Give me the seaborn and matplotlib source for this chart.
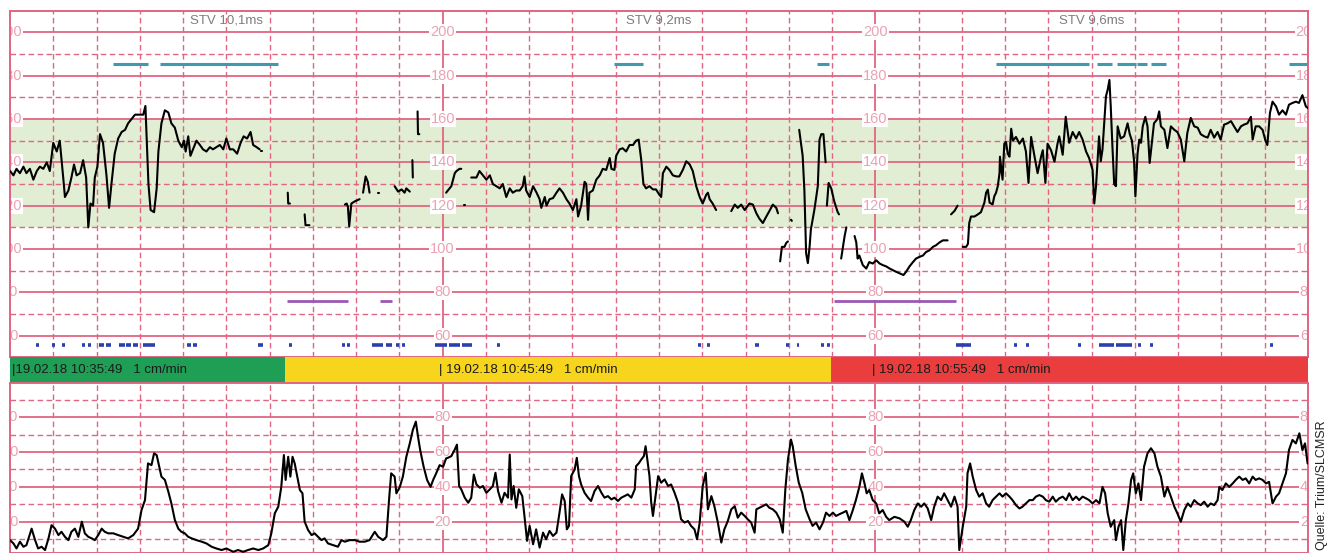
import numpy as np
import pandas as pd
import matplotlib
matplotlib.use("Agg")
import matplotlib.pyplot as plt
import seaborn as sns

# CTG strip, 30 minutes, x in minutes from 10:35:49
# fetal heart rate, one inner list per stretch of valid signal
fhr_min = [
    [0.00, 0.08, 0.15, 0.23, 0.31, 0.38, 0.46, 0.54, 0.62, 0.69, 0.77, 0.85, 0.92,
     1.00, 1.08, 1.15, 1.23, 1.27, 1.35, 1.42, 1.48, 1.54, 1.62, 1.69, 1.76, 1.81, 1.86, 1.92, 1.96,
     2.02, 2.08, 2.15, 2.23, 2.29, 2.35, 2.42, 2.50, 2.58, 2.66, 2.73, 2.81, 2.89, 2.99,
     3.08, 3.13, 3.20, 3.25, 3.33, 3.39, 3.43, 3.50, 3.58, 3.66, 3.73, 3.81, 3.89, 3.97,
     4.02, 4.06, 4.12, 4.17, 4.23, 4.31, 4.39, 4.46, 4.54, 4.62, 4.69, 4.77, 4.85, 4.93,
     5.00, 5.08, 5.16, 5.25, 5.33, 5.40, 5.48, 5.56, 5.62, 5.70, 5.77],
    [5.81, 5.83],
    [6.42, 6.43, 6.47],
    [6.81, 6.83, 6.92],
    [7.74, 7.78, 7.81, 7.84, 7.89, 7.97, 8.08],
    [8.16, 8.22, 8.27, 8.31],
    [8.50, 8.53],
    [8.89, 8.97, 9.05, 9.12, 9.16, 9.24],
    [9.30, 9.31],
    [9.42, 9.43, 9.46],
    [10.08, 10.12, 10.20, 10.24, 10.28, 10.32, 10.39, 10.43],
    [10.50, 10.52],
    [10.66, 10.78, 10.85, 10.93, 11.01, 11.09, 11.16, 11.24, 11.32, 11.39, 11.47, 11.55, 11.62,
     11.70, 11.78, 11.85, 11.89, 11.93, 12.01, 12.09, 12.17, 12.24, 12.28, 12.36, 12.40, 12.47,
     12.55, 12.63, 12.70, 12.78, 12.86, 12.93, 13.01, 13.09, 13.13, 13.20, 13.28, 13.32, 13.36,
     13.39, 13.47, 13.55, 13.63, 13.70, 13.78, 13.86, 13.90, 13.97, 14.01, 14.09, 14.16, 14.24,
     14.32, 14.40, 14.47, 14.53, 14.59, 14.64, 14.70, 14.78, 14.86, 14.93, 15.01, 15.05, 15.09,
     15.17, 15.24, 15.32, 15.40, 15.47, 15.55, 15.63, 15.71, 15.78, 15.86, 15.94, 16.01, 16.09,
     16.13, 16.17, 16.24, 16.32],
    [16.67, 16.75, 16.82, 16.90, 16.98, 17.09, 17.17, 17.25, 17.32, 17.40, 17.48, 17.55, 17.63,
     17.71, 17.75],
    [17.80, 17.84, 17.90, 17.94, 17.98],
    [18.05, 18.07],
    [18.24, 18.32, 18.36, 18.40, 18.44, 18.48, 18.51, 18.59, 18.67, 18.71, 18.75, 18.80, 18.85],
    [18.88, 18.92, 18.98, 19.05, 19.13, 19.16],
    [19.21, 19.29, 19.33],
    [19.52, 19.56, 19.59, 19.63, 19.71, 19.79, 19.86, 19.94, 20.02, 20.10, 20.17, 20.25, 20.33,
     20.40, 20.48, 20.56, 20.65, 20.71, 20.79, 20.87, 20.94, 21.02, 21.10, 21.17, 21.25, 21.33,
     21.40, 21.48, 21.56, 21.67],
    [21.75, 21.83, 21.90],
    [22.02, 22.10, 22.14, 22.17, 22.21, 22.29, 22.37, 22.44, 22.52, 22.56, 22.60, 22.64, 22.71,
     22.75, 22.79, 22.83, 22.87, 22.88, 22.94, 22.98, 23.02, 23.06, 23.10, 23.14, 23.18, 23.25,
     23.33, 23.41, 23.48, 23.54, 23.60, 23.68, 23.75, 23.83, 23.87, 23.93, 23.98, 24.06, 24.14,
     24.21, 24.25, 24.33, 24.40, 24.48, 24.56, 24.64, 24.71, 24.79, 24.87, 24.94, 25.02, 25.06,
     25.10, 25.17, 25.21, 25.25, 25.33, 25.37, 25.41, 25.44, 25.48, 25.52, 25.56, 25.60, 25.67,
     25.75, 25.83, 25.88, 25.93, 25.98, 26.01, 26.06, 26.10, 26.14, 26.18, 26.24, 26.29, 26.34,
     26.39, 26.44, 26.52, 26.56, 26.60, 26.68, 26.75, 26.83, 26.91, 26.98, 27.06, 27.14, 27.21,
     27.29, 27.37, 27.45, 27.52, 27.60, 27.68, 27.75, 27.83, 27.91, 27.98, 28.06, 28.14, 28.22,
     28.29, 28.37, 28.45, 28.52, 28.60, 28.68, 28.72, 28.79, 28.87, 28.95, 29.02, 29.06, 29.12,
     29.18, 29.26, 29.33, 29.41, 29.49, 29.56, 29.64, 29.72, 29.79, 29.87, 29.95, 30.00],
]
fhr_bpm = [
    [136, 134, 137, 135, 138, 135, 137, 132, 136, 138, 137, 140, 136,
     149, 145, 150, 133, 124, 127, 133, 139, 134, 135, 141, 133, 110, 121, 120, 133,
     138, 153, 149, 134, 119, 131, 144, 151, 154, 155, 158, 160, 162, 162,
     162, 166, 130, 118, 117, 128, 145, 158, 164, 163, 158, 156, 150, 147,
     150, 145, 152, 143, 146, 150, 148, 146, 145, 147, 146, 147, 148, 146,
     151, 146, 146, 144, 149, 152, 151, 154, 148, 147, 146],
    [145, 145],
    [126, 121, 121],
    [116, 111, 111],
    [120.5, 121, 119.5, 110.5, 121, 122, 123],
    [126, 133.5, 131, 126],
    [126, 126],
    [129, 126.5, 127.5, 126, 128, 126.5],
    [141, 133],
    [163.5, 153, 153],
    [126, 127, 129, 132, 135, 136, 137, 137],
    [120.5, 120.5],
    [133, 133, 136, 134, 132, 134, 130, 129, 128, 130, 124, 128, 126,
     127, 127, 129, 133.5, 127, 124, 129, 126, 123, 119, 124, 120, 123,
     123.5, 126, 128, 126, 123, 121, 118, 123, 115, 120, 131, 130, 113.5,
     126, 127, 132, 134, 137, 136.5, 142, 137, 136.5, 143, 146, 146.5, 145,
     148, 148, 150, 150.5, 141, 130, 128, 129, 127.5, 127.5, 125, 124, 135,
     138, 136.5, 134, 133.5, 133.5, 136.5, 140.5, 139, 136, 129, 124, 121, 125,
     126, 123, 121, 118],
    [117.5, 120.5, 119, 120.5, 118, 121, 120.5, 116.5, 114, 112, 115, 117.5, 120.5,
     119, 116.5],
    [94.3, 101, 101, 102.8, 103.5],
    [113.5, 113],
    [155, 143, 127, 98, 93.5, 101, 109, 118, 129, 150.5, 153, 153, 140],
    [120, 130.5, 128, 122, 117, 116],
    [95.6, 106, 110],
    [106, 103, 95.6, 97, 92.6, 91, 94, 93.3, 94.8, 93.3, 92.6, 92, 91,
     90.3, 89.5, 88.8, 88, 89.5, 92, 94, 95.6, 96.4, 97, 98.6, 99.4, 101,
     101.7, 103, 104, 104],
    [116, 117.6, 120],
    [101, 101, 102.4, 112, 115, 115, 116, 117, 121.4, 126, 127.4, 121.4, 120.6,
     124.4, 126, 129, 135, 142.6, 132, 148.6, 149.4, 144, 142.6, 155.5, 150, 151.7,
     148.6, 151, 145, 130.5, 151.7, 142.6, 135, 142.6, 145.6, 130.5, 148.6, 145.6, 140.3,
     148.6, 152, 143.5, 161, 149, 154, 151, 154, 150.5, 145, 142, 136.6, 121,
     129, 152, 140.5, 146, 170.5, 173.5, 178, 166, 147, 130, 129, 156.6, 151,
     152, 158, 153, 150, 140.5, 124.3, 144, 150.5, 149, 156.6, 161, 156.6, 139.7,
     149, 158, 160, 163.5, 156.6, 155, 146.6, 156.6, 155, 154, 150.5, 140.5, 153.5,
     160.5, 156.6, 156, 153, 152, 151.4, 155, 151.4, 154, 150.5, 157.4, 158, 159,
     156.6, 154, 156.6, 157.4, 158, 161, 150.5, 156.6, 156.6, 155, 149.7, 148, 162.8,
     168, 165.8, 162, 164, 162, 166.6, 167.4, 168, 167.4, 171, 165.8, 165],
]

# uterine activity (toco)
toco_min = [
    0.00, 0.08, 0.15, 0.23, 0.31, 0.38, 0.50, 0.58, 0.65, 0.73, 0.81, 0.89, 0.96,
    1.04, 1.12, 1.19, 1.27, 1.35, 1.42, 1.50, 1.58, 1.66, 1.73, 1.81, 1.89, 1.96,
    2.04, 2.12, 2.19, 2.27, 2.39, 2.50, 2.62, 2.73, 2.85, 2.96,
    3.04, 3.12, 3.19, 3.27, 3.33, 3.39, 3.45, 3.50, 3.58, 3.66, 3.73, 3.81, 3.89, 3.96,
    4.04, 4.12, 4.20, 4.31, 4.43, 4.54, 4.66, 4.77, 4.89,
    5.00, 5.16, 5.27, 5.39, 5.50, 5.62, 5.74, 5.85, 5.97,
    6.04, 6.12, 6.20, 6.27, 6.33, 6.37, 6.43, 6.48, 6.53, 6.58, 6.64, 6.70, 6.76, 6.81, 6.89, 6.97,
    7.04, 7.12, 7.20, 7.27, 7.35, 7.47, 7.58, 7.66, 7.74, 7.85, 7.97,
    8.08, 8.20, 8.31, 8.43, 8.51, 8.62, 8.70, 8.76, 8.81, 8.89, 8.93,
    9.01, 9.08, 9.16, 9.24, 9.31, 9.38, 9.43, 9.48, 9.56, 9.64, 9.72, 9.78, 9.85, 9.93,
    10.01, 10.08, 10.12, 10.20, 10.28, 10.33, 10.38, 10.43, 10.51, 10.59, 10.66, 10.72, 10.78,
    10.86, 10.93, 11.01, 11.09, 11.16, 11.22, 11.28, 11.36, 11.43, 11.51, 11.55, 11.59, 11.64,
    11.70, 11.76, 11.84, 11.89, 11.95, 12.01, 12.09, 12.16, 12.24, 12.32, 12.39, 12.47, 12.55,
    12.63, 12.70, 12.76, 12.82, 12.87, 12.92, 12.97, 13.05, 13.10, 13.15, 13.20, 13.28, 13.36,
    13.43, 13.51, 13.59, 13.67, 13.74, 13.82, 13.90, 13.97, 14.05, 14.13, 14.20, 14.28, 14.36,
    14.44, 14.47, 14.54, 14.59, 14.65, 14.69, 14.74, 14.78, 14.82, 14.86, 14.92, 14.98, 15.05,
    15.13, 15.21, 15.28, 15.36, 15.44, 15.51, 15.59, 15.67, 15.74, 15.82, 15.88, 15.94, 16.01,
    16.08, 16.13, 16.21, 16.28, 16.36, 16.44, 16.51, 16.59, 16.67, 16.75, 16.82, 16.90, 16.98,
    17.05, 17.13, 17.21, 17.25, 17.32, 17.40, 17.48, 17.55, 17.63, 17.71, 17.79, 17.86, 17.92,
    17.98, 18.05, 18.09, 18.16, 18.23, 18.31, 18.39, 18.48, 18.55, 18.63, 18.71, 18.79, 18.86,
    18.94, 19.02, 19.09, 19.17, 19.25, 19.33,
    19.40, 19.48, 19.55, 19.63, 19.69, 19.75, 19.80, 19.86, 19.94, 20.02, 20.09, 20.17, 20.25,
    20.32, 20.44, 20.56, 20.67, 20.75, 20.82, 20.90, 20.98, 21.06, 21.13, 21.21, 21.29, 21.36,
    21.44, 21.52, 21.59, 21.67, 21.75, 21.83, 21.90, 21.94, 22.02, 22.10, 22.13, 22.19, 22.25,
    22.33, 22.40, 22.48, 22.56, 22.63, 22.71, 22.79, 22.87, 22.94, 23.02, 23.10, 23.17, 23.25,
    23.33, 23.40, 23.48, 23.56, 23.64, 23.71, 23.79, 23.87, 23.94, 24.02, 24.10, 24.17, 24.25,
    24.33, 24.41, 24.48, 24.56, 24.64, 24.71, 24.79, 24.87, 24.94, 25.02, 25.10, 25.18, 25.25,
    25.31, 25.37, 25.44, 25.52, 25.56, 25.62, 25.68, 25.73, 25.79, 25.85, 25.91, 25.96, 26.02,
    26.08, 26.14, 26.21, 26.29, 26.37, 26.45, 26.52, 26.60, 26.68, 26.75, 26.83, 26.91, 26.98,
    27.06, 27.14, 27.22, 27.29, 27.37, 27.45, 27.52, 27.60, 27.68, 27.75, 27.83, 27.91, 27.95,
    28.02, 28.10, 28.18, 28.26, 28.33, 28.41, 28.49, 28.56, 28.64, 28.72, 28.79, 28.87, 28.95,
    29.03, 29.10, 29.18, 29.26, 29.33, 29.41, 29.49, 29.56, 29.64, 29.72, 29.80, 29.87, 29.93,
    29.99,
]
toco_val = [
    9.4, 7.5, 4.6, 8.5, 5.6, 6.5, 16, 9.4, 4.6, 5.6, 3.7, 10.4, 18,
    16, 12.3, 14.2, 11.3, 9.4, 14.2, 16, 11.3, 20, 13.3, 11.3, 10.4, 9.4,
    12.3, 16, 14.2, 13.3, 13.3, 12.3, 11.3, 10.4, 12.3, 16,
    26.7, 32.4, 53.5, 52.5, 59.3, 58.3, 51.6, 45.9, 44, 37.2, 30.5, 21, 16, 14.2,
    13.3, 11.3, 10.4, 9.4, 8.5, 7.5, 5.6, 4.6, 3.7,
    4.6, 2.7, 3.7, 2.7, 3.7, 4.6, 3.7, 4.6, 6.5,
    13.3, 24.8, 28.6, 40, 58.3, 44, 57.3, 45.9, 57.3, 53.5, 45.9, 38.2, 36.3, 20, 15.2, 12.3,
    13.3, 11.3, 9.4, 10.4, 7.5, 6.5, 5.6, 9.4, 8.5, 9.4, 9.4,
    8.5, 8.5, 9.4, 14.2, 11.3, 9.4, 11.3, 32.4, 47.8, 45.9, 36.3,
    40, 45.9, 57.3, 65, 72.7, 77.5, 68.9, 61.2, 51.6, 44, 40, 44, 47.8, 52.5,
    51.6, 56.4, 56.7, 57.7, 61.5, 64.3, 40.5, 38.6, 33.8, 30.9, 33.8, 47.1, 41.4,
    39.5, 40.5, 36.6, 38.6, 40.5, 48.1, 37.6, 30.9, 36.6, 33.8, 58.6, 32.8, 40.5,
    28, 38.6, 34.7, 23.3, 9, 17.6, 7, 15.6, 5.1, 13.7, 9.9, 14.7, 11.8,
    13.7, 25.2, 35.7, 31.9, 15.6, 17.6, 46.2, 50, 56.7, 46.2, 41.4, 36.6, 33.8,
    31.9, 37.6, 40.5, 36.6, 33.8, 34.7, 32.8, 33.8, 31.9, 33.8, 34.7, 35.7, 33.8,
    38.6, 51.9, 53.8, 55.7, 57.7, 63.4, 53.8, 46.2, 30.9, 23.3, 34.7, 46.2, 42.4,
    44.3, 40.5, 41.4, 36.6, 30.9, 21.4, 19.5, 20.4, 17.6, 15.6, 9.9, 19.5, 40.5,
    48.1, 27.1, 34.7, 28.9, 19.5, 8, 15.6, 20.4, 27.1, 28.9, 22.3, 25.2, 23.3,
    21.4, 19.5, 13.7, 27.1, 28, 29, 30, 28, 27.1, 25.2, 21.4, 13.7, 38.6,
    55.7, 67.2, 63.4, 51.9, 42.4, 36.6, 27.1, 21.4, 17.6, 19.5, 15.6, 19.5, 25.2,
    23.3, 25.2, 23.3, 24.3, 25.2, 26.2,
    20.9, 26.7, 32.4, 40, 47.8, 42, 36.3, 38.2, 32.4, 30.5, 24.8, 26.7, 22.8,
    20.9, 22.8, 21.9, 20, 17.1, 20.9, 26.7, 30.5, 28.6, 30.5, 27.6, 20.9, 28.6,
    34.4, 32.4, 36.3, 32.4, 28.6, 34.4, 28.6, 3.7, 17.1, 28.6, 47.8, 53.5, 45.9,
    38.2, 34.4, 36.3, 30.5, 28.6, 32.4, 34.4, 36.3, 34.4, 36.3, 34.4, 32.4, 29.5,
    27.6, 28.6, 30.5, 32.4, 32.4, 34.4, 35.3, 34.4, 32.4, 31.5, 34.4, 31.5, 33.4,
    34.4, 32.4, 36.3, 32.4, 34.4, 32.4, 34.4, 33.4, 32.4, 30.5, 32.4, 30.5, 40,
    36.3, 24.8, 17.1, 20.9, 9.4, 17.1, 20.9, 3.7, 20.9, 30.5, 44, 47.8, 36.3,
    42, 32.4, 51.6, 59.3, 62.2, 59.3, 51.6, 45.9, 34.4, 40, 34.4, 28.6, 24.8,
    20, 26.7, 30.5, 28.6, 32.4, 30.5, 29.5, 31.5, 28.6, 30.5, 29.5, 32.4, 40,
    38.2, 42, 40, 42, 44, 45.9, 44, 44.9, 42, 45.9, 44, 44.9, 44,
    42, 42.9, 30.5, 34.4, 36.3, 42, 47.8, 61.2, 67, 65, 70.8, 61.2, 65,
    53.5,
]

# event markers (start, end in minutes)
teal_start = [2.38, 3.46, 13.97, 18.64, 22.79, 25.13, 25.59, 26.05, 26.37, 29.56]
teal_end = [3.19, 6.19, 14.62, 18.94, 24.94, 25.47, 26.03, 26.28, 26.72, 29.98]
purple_start = [6.40, 8.55, 19.05]
purple_end = [7.81, 8.82, 21.87]
move_start = [0.60, 0.97, 1.20, 1.66, 1.80, 2.06, 2.22, 2.52, 2.68, 2.84, 3.07, 4.09, 4.23,
              5.73, 6.44, 7.67, 7.78, 8.36, 8.68, 8.91, 9.05, 9.82, 10.14, 10.44, 11.25,
              15.89, 16.10, 17.23, 17.94, 18.18, 18.75, 18.89, 21.87, 23.21, 23.49, 24.69,
              25.17, 25.57, 26.07, 26.35, 29.12]
move_end = [0.67, 1.04, 1.27, 1.73, 1.87, 2.17, 2.33, 2.66, 2.79, 2.96, 3.35, 4.18, 4.32,
            5.84, 6.51, 7.74, 7.85, 8.61, 8.82, 8.98, 9.12, 10.09, 10.39, 10.67, 11.32,
            15.96, 16.17, 17.30, 18.01, 18.24, 18.82, 18.96, 22.22, 23.28, 23.56, 24.76,
            25.52, 25.94, 26.14, 26.42, 29.19]

# status bar
status_start = [0, 6.35, 18.98]
status_end = [6.35, 18.98, 30]
status_colors = ["#1f9e55", "#f7d51d", "#ea3d3d"]
status_text = ["|19.02.18 10:35:49   1 cm/min", "| 19.02.18 10:45:49   1 cm/min",
               "| 19.02.18 10:55:49   1 cm/min"]
status_text_at = [0.05, 9.92, 19.92]

stv_text = ["STV 10,1ms", "STV 9,2ms", "STV 9,6ms"]
stv_at = [5, 15, 25]

fhr_labels = [200, 180, 160, 140, 120, 100, 80, 60]
toco_labels = [80, 60, 40, 20]
label_min = [0, 10, 20, 30]

GRID = "#e06683"
LABEL = "#eba2b3"

sns.set_theme(style="white")
plt.rcParams["font.family"] = ["Liberation Sans", "DejaVu Sans"]

fig = plt.figure(figsize=(13.32, 5.53), dpi=100)
ax_top = fig.add_axes([0.0075, 0.3537, 0.9745, 0.6271])
ax_bar = fig.add_axes([0.0075, 0.3083, 0.9745, 0.0454])
ax_bot = fig.add_axes([0.0075, 0.0, 0.9745, 0.3083])


def paper(ax, ylo, yhi, major_y, minor_y):
    ax.set_xlim(0, 30)
    ax.set_ylim(ylo, yhi)
    ax.set_xticks(label_min)
    ax.set_xticks(np.arange(1, 30), minor=True)
    ax.set_yticks(major_y)
    ax.set_yticks(minor_y, minor=True)
    ax.set_axisbelow(True)
    ax.grid(which="major", color=GRID, lw=1.3, ls="-")
    ax.grid(which="minor", color=GRID, lw=1.0, ls=(0, (4, 2.5)))
    ax.tick_params(which="both", length=0, labelbottom=False, labelleft=False)
    ax.set_xlabel("")
    ax.set_ylabel("")
    for s in ax.spines.values():
        s.set_color(GRID)
        s.set_linewidth(1.4)


def scale_labels(ax, values):
    for x in label_min:
        for v in values:
            ax.text(x, v, str(v), color=LABEL, fontsize=10.5, ha="center", va="center",
                    zorder=2.5, clip_on=True,
                    bbox=dict(facecolor="white", edgecolor="none", pad=0.6))


# top: heart rate
ax_top.axhspan(110, 160, color="#e2eed3", zorder=0.2, lw=0)
rows = []
for i, (ts, bs) in enumerate(zip(fhr_min, fhr_bpm)):
    for t, b in zip(ts, bs):
        rows.append((i, t, b))
fhr = pd.DataFrame(rows, columns=["seg", "min", "bpm"])
sns.lineplot(data=fhr, x="min", y="bpm", units="seg", estimator=None, sort=False,
             color="black", lw=1.5, ax=ax_top, zorder=3, legend=False)
ax_top.hlines([185.5] * len(teal_start), teal_start, teal_end, color="#3e9aac", lw=2.2, zorder=3)
ax_top.hlines([76] * len(purple_start), purple_start, purple_end, color="#9a58b3", lw=2.0, zorder=3)
ax_top.hlines([55.5] * len(move_start), move_start, move_end, color="#2a3fb0", lw=2.6, zorder=3)
paper(ax_top, 50, 210, np.arange(60, 201, 20), np.arange(70, 200, 20))
scale_labels(ax_top, fhr_labels)
for x, s in zip(stv_at, stv_text):
    ax_top.text(x, 205.6, s, color="#7d7d7d", fontsize=9.5, ha="center", va="center", zorder=2.5)

# status bar
for a, b, c in zip(status_start, status_end, status_colors):
    ax_bar.axvspan(a, b, color=c, lw=0)
for x, s in zip(status_text_at, status_text):
    ax_bar.text(x, 0.5, s, fontsize=9.5, color="#1b1b1b", ha="left", va="center")
ax_bar.set_xlim(0, 30)
ax_bar.set_ylim(0, 1)
ax_bar.set_axis_off()

# bottom: toco
toco = pd.DataFrame({"min": toco_min, "val": toco_val})
sns.lineplot(data=toco, x="min", y="val", estimator=None, sort=False,
             color="black", lw=1.5, ax=ax_bot, zorder=3)
paper(ax_bot, 2, 100, np.arange(20, 81, 20), np.arange(10, 100, 20))
scale_labels(ax_bot, toco_labels)

fig.text(0.9925, 0.006, "Quelle: Trium/SLCMSR", rotation=90, ha="center", va="bottom",
         fontsize=9, color="#222222")

fig.savefig("out.png", dpi=100)
